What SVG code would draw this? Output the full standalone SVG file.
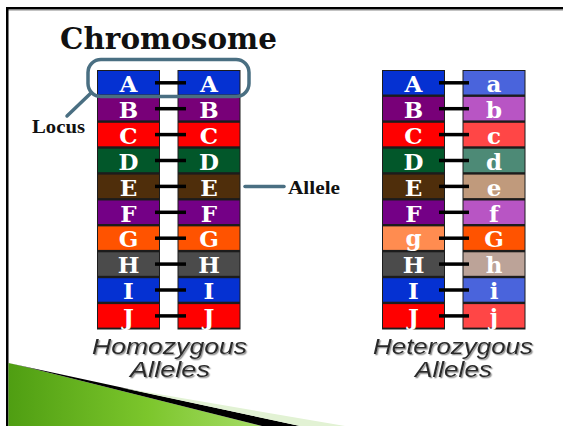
<svg xmlns="http://www.w3.org/2000/svg" width="563" height="426" viewBox="0 0 563 426">
  <defs>
    <linearGradient id="grass" x1="0" y1="0" x2="1" y2="0">
      <stop offset="0" stop-color="#4f9e12"/>
      <stop offset="0.55" stop-color="#7cc62c"/>
      <stop offset="1" stop-color="#a6dc66"/>
    </linearGradient>
    <filter id="soft-shadow" x="-5%" y="-20%" width="115%" height="150%">
      <feDropShadow dx="1.3" dy="1.3" stdDeviation="0.6" flood-color="#8a8a8a" flood-opacity="0.9"/>
    </filter>
  </defs>
  <style>
    .col { fill: #1c1c1c; }
    .bar { stroke: #000; stroke-width: 3.5; }
    .lt { font-family: "DejaVu Serif", "Liberation Serif", serif; font-weight: bold; font-size: 23px; fill: #fff; text-anchor: middle; }
    .lbl { font-family: "Liberation Serif", "DejaVu Serif", serif; font-weight: bold; font-size: 18px; fill: #111; }
    .cap { font-family: "Liberation Sans", "DejaVu Sans", sans-serif; font-style: italic; font-size: 22.5px; fill: #2a2a2a; filter: url(#soft-shadow); }
    .pointer { fill: none; stroke: #4a6f82; stroke-width: 3.5; stroke-linecap: round; }
  </style>

  <!-- page background and frame -->
  <rect x="0" y="0" width="563" height="426" fill="#fff"/>
  <rect x="6" y="7" width="557" height="2.5" fill="#000"/>
  <rect x="8" y="9.5" width="555" height="1" fill="#888"/>
  <rect x="6" y="7" width="2.5" height="419" fill="#000"/>

  <!-- bottom-left swoosh -->
  <polygon points="8.5,363 30,368 262,426 8.5,426" fill="url(#grass)"/>
  <polygon points="30,368 8.5,363 300,426 262,426" fill="#000"/>
  <polygon points="120,387.5 345,426 300,426" fill="#e2f2d4"/>

  <!-- title -->
  <text id="title" x="60" y="49" font-family="DejaVu Serif, Liberation Serif, serif" font-weight="bold" font-size="30" fill="#111" textLength="217" lengthAdjust="spacingAndGlyphs">Chromosome</text>

  <!-- homozygous chromosome -->
  <g id="homozygous">
    <rect class="col" x="97" y="70" width="63" height="259.5"/>
    <rect class="col" x="177.5" y="70" width="63" height="259.5"/>
    <g id="homo-left">
      <rect x="98" y="71" width="61" height="23.5" fill="#0531d2"/>
      <rect x="98" y="96.9" width="61" height="23.5" fill="#780078"/>
      <rect x="98" y="122.8" width="61" height="23.5" fill="#ff0000"/>
      <rect x="98" y="148.7" width="61" height="23.5" fill="#02572a"/>
      <rect x="98" y="174.6" width="61" height="23.5" fill="#4f2e0b"/>
      <rect x="98" y="200.5" width="61" height="23.5" fill="#740086"/>
      <rect x="98" y="226.4" width="61" height="23.5" fill="#ff5300"/>
      <rect x="98" y="252.3" width="61" height="23.5" fill="#4b4b4b"/>
      <rect x="98" y="278.2" width="61" height="23.5" fill="#0531d2"/>
      <rect x="98" y="304.1" width="61" height="23.5" fill="#ff0000"/>
    </g>
    <g id="homo-right">
      <rect x="178.5" y="71" width="61" height="23.5" fill="#0531d2"/>
      <rect x="178.5" y="96.9" width="61" height="23.5" fill="#780078"/>
      <rect x="178.5" y="122.8" width="61" height="23.5" fill="#ff0000"/>
      <rect x="178.5" y="148.7" width="61" height="23.5" fill="#02572a"/>
      <rect x="178.5" y="174.6" width="61" height="23.5" fill="#4f2e0b"/>
      <rect x="178.5" y="200.5" width="61" height="23.5" fill="#740086"/>
      <rect x="178.5" y="226.4" width="61" height="23.5" fill="#ff5300"/>
      <rect x="178.5" y="252.3" width="61" height="23.5" fill="#4b4b4b"/>
      <rect x="178.5" y="278.2" width="61" height="23.5" fill="#0531d2"/>
      <rect x="178.5" y="304.1" width="61" height="23.5" fill="#ff0000"/>
    </g>
    <g id="homo-bars">
      <line class="bar" x1="155" y1="82.8" x2="186" y2="82.8"/>
      <line class="bar" x1="155" y1="108.7" x2="186" y2="108.7"/>
      <line class="bar" x1="155" y1="134.6" x2="186" y2="134.6"/>
      <line class="bar" x1="155" y1="160.5" x2="186" y2="160.5"/>
      <line class="bar" x1="155" y1="186.4" x2="186" y2="186.4"/>
      <line class="bar" x1="155" y1="212.3" x2="186" y2="212.3"/>
      <line class="bar" x1="155" y1="238.2" x2="186" y2="238.2"/>
      <line class="bar" x1="155" y1="264.1" x2="186" y2="264.1"/>
      <line class="bar" x1="155" y1="290" x2="186" y2="290"/>
      <line class="bar" x1="155" y1="315.9" x2="186" y2="315.9"/>
    </g>
    <g id="homo-letters">
      <text class="lt" x="128.5" y="92">A</text><text class="lt" x="209" y="92">A</text>
      <text class="lt" x="128.5" y="117.9">B</text><text class="lt" x="209" y="117.9">B</text>
      <text class="lt" x="128.5" y="143.8">C</text><text class="lt" x="209" y="143.8">C</text>
      <text class="lt" x="128.5" y="169.7">D</text><text class="lt" x="209" y="169.7">D</text>
      <text class="lt" x="128.5" y="195.6">E</text><text class="lt" x="209" y="195.6">E</text>
      <text class="lt" x="128.5" y="221.5">F</text><text class="lt" x="209" y="221.5">F</text>
      <text class="lt" x="128.5" y="247.4">G</text><text class="lt" x="209" y="247.4">G</text>
      <text class="lt" x="128.5" y="273.3">H</text><text class="lt" x="209" y="273.3">H</text>
      <text class="lt" x="128.5" y="299.2">I</text><text class="lt" x="209" y="299.2">I</text>
      <text class="lt" x="128.5" y="325.1">J</text><text class="lt" x="209" y="325.1">J</text>
    </g>
    <g id="homo-caption">
      <text class="cap" x="92" y="354" textLength="155" lengthAdjust="spacingAndGlyphs">Homozygous</text>
      <text class="cap" x="130" y="377" textLength="80" lengthAdjust="spacingAndGlyphs">Alleles</text>
    </g>
  </g>

  <!-- heterozygous chromosome -->
  <g id="heterozygous">
    <rect class="col" x="382" y="70" width="63" height="259.5"/>
    <rect class="col" x="462.5" y="70" width="63" height="259.5"/>
    <g id="hetero-left">
      <rect x="383" y="71" width="61" height="23.5" fill="#0531d2"/>
      <rect x="383" y="96.9" width="61" height="23.5" fill="#780078"/>
      <rect x="383" y="122.8" width="61" height="23.5" fill="#ff0000"/>
      <rect x="383" y="148.7" width="61" height="23.5" fill="#02572a"/>
      <rect x="383" y="174.6" width="61" height="23.5" fill="#4f2e0b"/>
      <rect x="383" y="200.5" width="61" height="23.5" fill="#740086"/>
      <rect x="383" y="226.4" width="61" height="23.5" fill="#ff8c50"/>
      <rect x="383" y="252.3" width="61" height="23.5" fill="#4b4b4b"/>
      <rect x="383" y="278.2" width="61" height="23.5" fill="#0531d2"/>
      <rect x="383" y="304.1" width="61" height="23.5" fill="#ff0000"/>
    </g>
    <g id="hetero-right">
      <rect x="463.5" y="71" width="61" height="23.5" fill="#4a64dc"/>
      <rect x="463.5" y="96.9" width="61" height="23.5" fill="#b855c4"/>
      <rect x="463.5" y="122.8" width="61" height="23.5" fill="#ff4646"/>
      <rect x="463.5" y="148.7" width="61" height="23.5" fill="#4d8a76"/>
      <rect x="463.5" y="174.6" width="61" height="23.5" fill="#c09a7c"/>
      <rect x="463.5" y="200.5" width="61" height="23.5" fill="#b855c4"/>
      <rect x="463.5" y="226.4" width="61" height="23.5" fill="#ff5300"/>
      <rect x="463.5" y="252.3" width="61" height="23.5" fill="#bca398"/>
      <rect x="463.5" y="278.2" width="61" height="23.5" fill="#4a64dc"/>
      <rect x="463.5" y="304.1" width="61" height="23.5" fill="#ff4646"/>
    </g>
    <g id="hetero-bars">
      <line class="bar" x1="439" y1="82.8" x2="469" y2="82.8"/>
      <line class="bar" x1="439" y1="108.7" x2="469" y2="108.7"/>
      <line class="bar" x1="439" y1="134.6" x2="469" y2="134.6"/>
      <line class="bar" x1="439" y1="160.5" x2="469" y2="160.5"/>
      <line class="bar" x1="439" y1="186.4" x2="469" y2="186.4"/>
      <line class="bar" x1="439" y1="212.3" x2="469" y2="212.3"/>
      <line class="bar" x1="439" y1="238.2" x2="469" y2="238.2"/>
      <line class="bar" x1="439" y1="264.1" x2="469" y2="264.1"/>
      <line class="bar" x1="439" y1="290" x2="469" y2="290"/>
      <line class="bar" x1="439" y1="315.9" x2="469" y2="315.9"/>
    </g>
    <g id="hetero-letters">
      <text class="lt" x="413.5" y="92">A</text><text class="lt" x="494" y="92">a</text>
      <text class="lt" x="413.5" y="117.9">B</text><text class="lt" x="494" y="117.9">b</text>
      <text class="lt" x="413.5" y="143.8">C</text><text class="lt" x="494" y="143.8">c</text>
      <text class="lt" x="413.5" y="169.7">D</text><text class="lt" x="494" y="169.7">d</text>
      <text class="lt" x="413.5" y="195.6">E</text><text class="lt" x="494" y="195.6">e</text>
      <text class="lt" x="413.5" y="221.5">F</text><text class="lt" x="494" y="221.5">f</text>
      <text class="lt" x="413.5" y="246">g</text><text class="lt" x="494" y="247.4">G</text>
      <text class="lt" x="413.5" y="273.3">H</text><text class="lt" x="494" y="273.3">h</text>
      <text class="lt" x="413.5" y="299.2">I</text><text class="lt" x="494" y="299.2">i</text>
      <text class="lt" x="413.5" y="325.1">J</text><text class="lt" x="494" y="324.6">j</text>
    </g>
    <g id="hetero-caption">
      <text class="cap" x="373" y="354" textLength="160" lengthAdjust="spacingAndGlyphs">Heterozygous</text>
      <text class="cap" x="415" y="377" textLength="77" lengthAdjust="spacingAndGlyphs">Alleles</text>
    </g>
  </g>

  <!-- callouts -->
  <g id="connectors">
    <rect class="pointer" x="88" y="59.5" width="161" height="37" rx="13" ry="13"/>
    <line class="pointer" x1="91" y1="93" x2="67" y2="116"/>
    <line class="pointer" x1="245" y1="186.5" x2="284" y2="186.5"/>
  </g>
  <g id="locus-label">
    <text class="lbl" x="32" y="133" textLength="53" lengthAdjust="spacingAndGlyphs">Locus</text>
  </g>
  <g id="allele-label">
    <text class="lbl" x="288" y="194" textLength="52" lengthAdjust="spacingAndGlyphs">Allele</text>
  </g>
</svg>
